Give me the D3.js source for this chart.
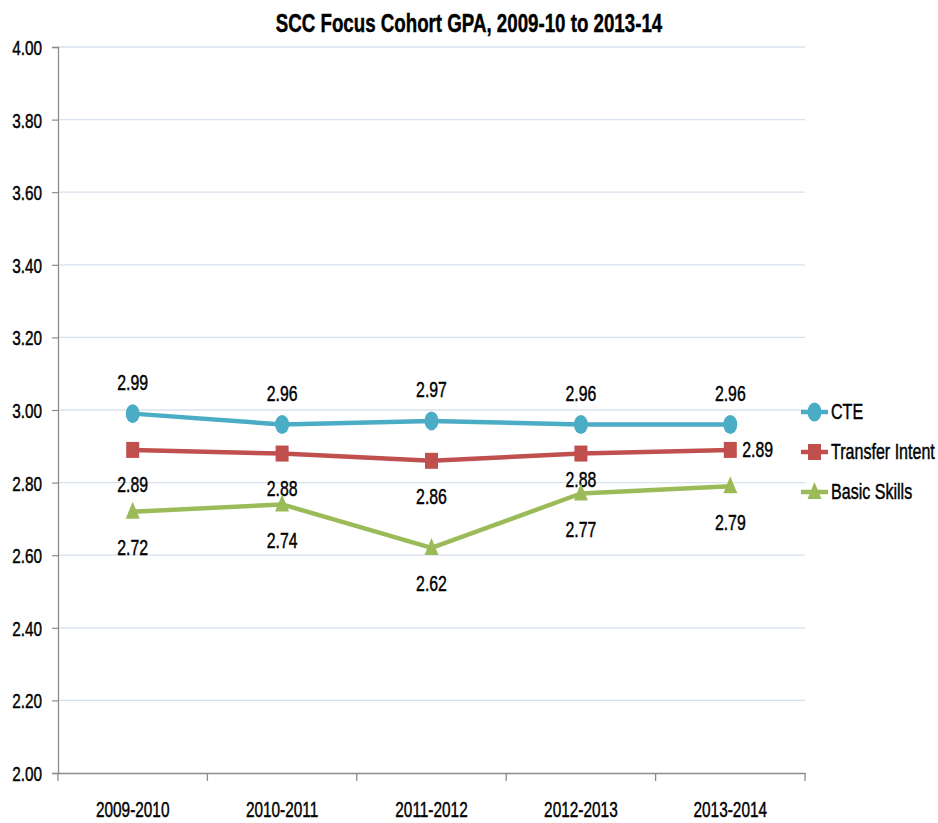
<!DOCTYPE html>
<html>
<head>
<meta charset="utf-8">
<script src="https://cdn.jsdelivr.net/npm/d3@7"></script>
<style>
  html, body { margin: 0; padding: 0; background: #fff; }
  svg text { font-family: "Liberation Sans", Arial, sans-serif; fill: #000; stroke: #000; stroke-width: 0.45px; }
</style>
</head>
<body>
<svg id="chart" width="938" height="823"></svg>
<script>
// GPA by academic year for three cohorts
const years = ["2009-2010", "2010-2011", "2011-2012", "2012-2013", "2013-2014"];
const cteGPA = [2.99, 2.96, 2.97, 2.96, 2.96];
const transferGPA = [2.89, 2.88, 2.86, 2.88, 2.89];
const basicGPA = [2.72, 2.74, 2.62, 2.77, 2.79];
const yTicks = [2.00, 2.20, 2.40, 2.60, 2.80, 3.00, 3.20, 3.40, 3.60, 3.80, 4.00];

const series = [
  { name: "CTE", values: cteGPA, color: "#4bacc6", marker: "circle" },
  { name: "Transfer Intent", values: transferGPA, color: "#c0504d", marker: "square" },
  { name: "Basic Skills", values: basicGPA, color: "#9bbb59", marker: "triangle" }
];

// label placement per series (vertical offset from the point, in px; null = right of point)
const labelDy = {
  "CTE": [-31, -31, -31, -31, -31],
  "Transfer Intent": [35, 35, 36, 26, null],
  "Basic Skills": [36, 36, 36, 36, 36]
};

// narrow type, drawn by squeezing the glyphs horizontally
const SQ = 0.72;

const svg = d3.select("#chart");
const plotLeft = 58, plotRight = 805, plotTop = 47, plotBottom = 773;

const x = d3.scaleBand().domain(years).range([plotLeft, plotRight]);
const y = d3.scaleLinear().domain([2, 4]).range([plotBottom, plotTop]);

function narrowText(parent, px, py, str, size, anchor, sx) {
  return parent.append("text")
    .attr("transform", `translate(${px},${py}) scale(${sx || SQ},1)`)
    .attr("text-anchor", anchor || "middle")
    .attr("dominant-baseline", "central")
    .style("font-size", size + "px")
    .text(str);
}

// title
narrowText(svg, 469, 23, "SCC Focus Cohort GPA, 2009-10 to 2013-14", 26, "middle", 0.72)
  .style("font-weight", "bold");

// gridlines
svg.append("g").selectAll("line")
  .data(yTicks.filter(d => d > 2))
  .join("line")
  .attr("x1", plotLeft).attr("x2", plotRight)
  .attr("y1", d => y(d)).attr("y2", d => y(d))
  .attr("stroke", "#d8e2ee").attr("stroke-width", 1.3);

// y axis
const yAxis = svg.append("g").attr("transform", `translate(${plotLeft},0)`)
  .call(d3.axisLeft(y).tickValues(yTicks).tickFormat(d3.format(".2f")).tickSize(6));
yAxis.select(".domain").attr("stroke", "#8c8c8c").attr("stroke-width", 1.3);
yAxis.selectAll(".tick line").attr("stroke", "#8c8c8c").attr("stroke-width", 1.2);
yAxis.selectAll(".tick text")
  .attr("x", 0).attr("dy", null)
  .attr("dominant-baseline", "central")
  .attr("transform", `translate(-16,0) scale(0.73,1)`)
  .style("font-size", "21px").attr("fill", "#000");

// x axis
const xAxis = svg.append("g").attr("transform", `translate(0,${plotBottom})`)
  .call(d3.axisBottom(x).tickSize(0));
xAxis.select(".domain").attr("stroke", "#8c8c8c").attr("stroke-width", 1.3);
xAxis.selectAll(".tick text")
  .attr("y", 0).attr("dy", null)
  .attr("dominant-baseline", "central")
  .attr("transform", `translate(0,36) scale(0.7,1)`)
  .style("font-size", "22px").attr("fill", "#000");
// category boundary ticks
const bounds = years.map(d => x(d)).concat([x(years[years.length - 1]) + x.bandwidth()]);
svg.append("g").selectAll("line").data(bounds).join("line")
  .attr("x1", d => d).attr("x2", d => d)
  .attr("y1", plotBottom).attr("y2", plotBottom + 8)
  .attr("stroke", "#8c8c8c").attr("stroke-width", 1.3);

const cx = d => x(d) + x.bandwidth() / 2;
const line = d3.line().x(d => cx(d.year)).y(d => y(d.value));

function drawMarker(g, type, color, px, py) {
  if (type === "circle") {
    g.append("ellipse").attr("cx", px).attr("cy", py).attr("rx", 7).attr("ry", 9.5).attr("fill", color);
  } else if (type === "square") {
    g.append("rect").attr("x", px - 6.5).attr("y", py - 8).attr("width", 13).attr("height", 16).attr("fill", color);
  } else {
    g.append("path")
      .attr("d", `M${px},${py - 10}L${px + 7},${py + 7}L${px - 7},${py + 7}Z`)
      .attr("fill", color);
  }
}

const labels = svg.append("g");
series.forEach(s => {
  const pts = s.values.map((v, i) => ({ year: years[i], value: v }));
  const g = svg.append("g");
  g.append("path").datum(pts)
    .attr("d", line)
    .attr("fill", "none").attr("stroke", s.color).attr("stroke-width", 4.5)
    .attr("stroke-linejoin", "round");
  pts.forEach(p => drawMarker(g, s.marker, s.color, cx(p.year), y(p.value)));
  // value labels
  pts.forEach((p, i) => {
    const dy = labelDy[s.name][i];
    const str = d3.format(".2f")(p.value);
    if (dy === null) {
      narrowText(labels, cx(p.year) + 12, y(p.value), str, 22, "start");
    } else {
      narrowText(labels, cx(p.year), y(p.value) + dy, str, 22, "middle");
    }
  });
});

// legend
const legend = svg.append("g");
series.forEach((s, i) => {
  const ly = 412 + i * 40;
  legend.append("line")
    .attr("x1", 801).attr("x2", 828).attr("y1", ly).attr("y2", ly)
    .attr("stroke", s.color).attr("stroke-width", 4.5);
  drawMarker(legend, s.marker, s.color, 814.5, ly);
  narrowText(legend, 831, ly, s.name, 22, "start", 0.73);
});
</script>
</body>
</html>
